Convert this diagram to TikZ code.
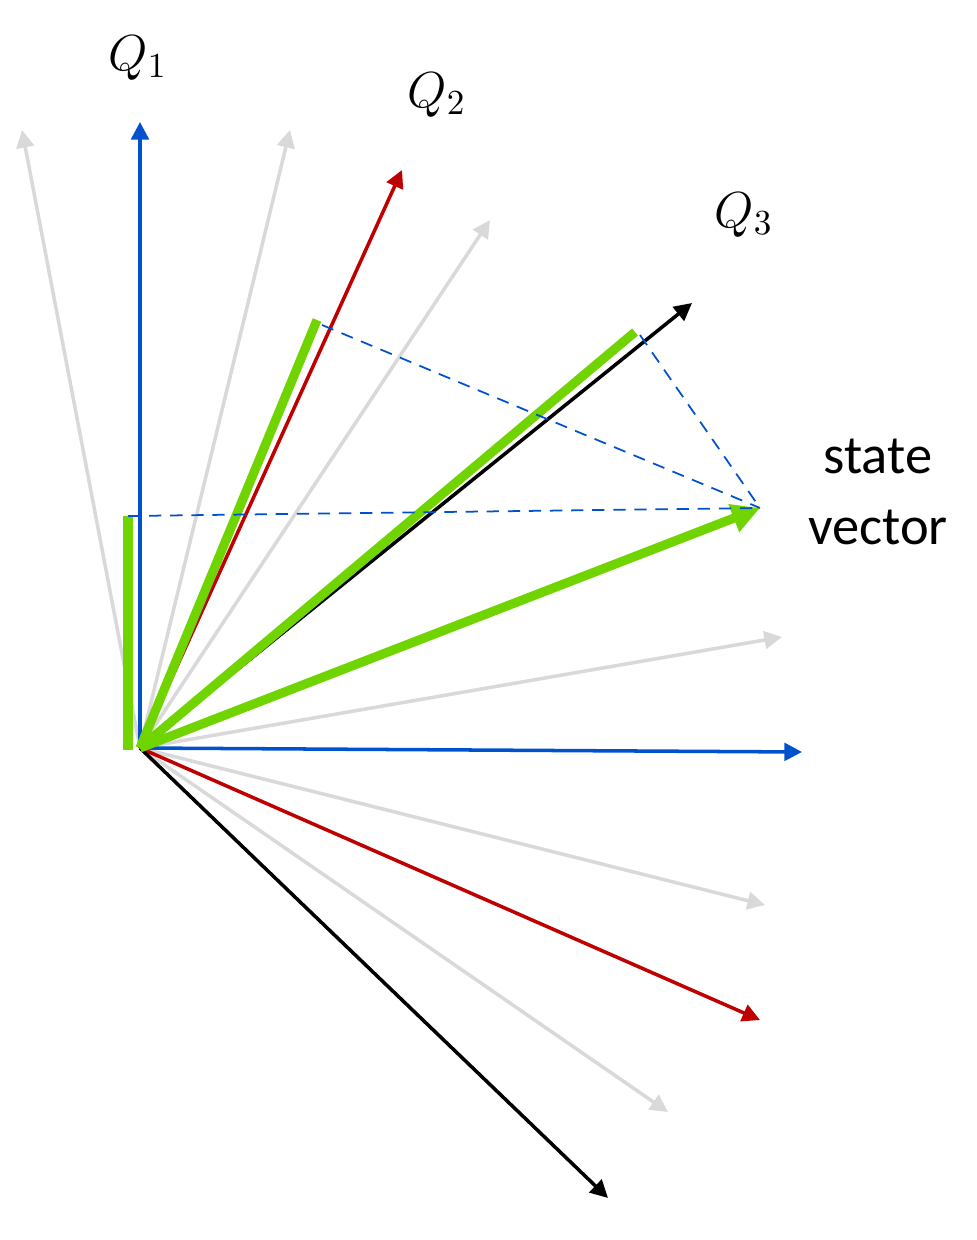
\documentclass[tikz,border=0pt]{standalone}
\usepackage{fontspec}
\setsansfont{Carlito}
\usetikzlibrary{arrows.meta}
\begin{document}
\begin{tikzpicture}[x=0.01cm, y=-0.01cm]
        % ================= styles =================
        \tikzset{
            % faint axes
            faint/.style={line width=1pt, black!15, -{Triangle[length=5pt,width=5pt]}},
            % coloured axes
            axis/.style={line width=1pt, -{Triangle[length=5pt,width=5pt]}},
            % projections
            proj/.style={line width=2.6pt, green!65!black!60!lime!80!yellow},
            % helper lines
            helper/.style={line width=0.5pt, blue!60!cyan!80!black, dash pattern=on 3.5pt off 2.5pt}
        }
        \useasboundingbox (0,0) rectangle (977,1240);

        % ================= 1. points =================
        \coordinate (o) at (140,748);
        \coordinate (g1) at (22,130);
        \coordinate (g2) at (290,130);
        \coordinate (g3) at (490,220);
        \coordinate (g4) at (782,637);
        \coordinate (g5) at (765,905);
        \coordinate (g6) at (668,1112);
        \coordinate (q1) at (140,122);
        \coordinate (q1b) at (802,752);
        \coordinate (q2) at (402,170);
        \coordinate (q2b) at (760,1020);
        \coordinate (q3) at (692,303);
        \coordinate (q3b) at (608,1198);
        \coordinate (p1) at (128,516);
        \coordinate (p2) at (317,320);
        \coordinate (p3) at (635,332);
        \coordinate (sv) at (760,508);

        % ================= 2. axes =================
        \foreach \p in {g1,g2,g3,g4,g5,g6} \draw[faint] (o) -- (\p);
        \draw[axis, blue!60!cyan!80!black] (o) -- (q1);
        \draw[axis, blue!60!cyan!80!black] (o) -- (q1b);
        \draw[axis, red!75!black] (o) -- (q2);
        \draw[axis, red!75!black] (o) -- (q2b);
        \draw[axis, black] (o) -- (q3);
        \draw[axis, black] (o) -- (q3b);

        % ================= 3. projections =================
        \draw[proj] (128,750) -- (p1);
        \draw[proj] (o) -- (p2);
        \draw[proj] (o) -- (p3);
        \draw[proj, -{Triangle[length=8pt,width=8pt]}] (o) -- (sv);
        \draw[helper] (p1) -- (sv);
        \draw[helper] (322,325) -- (sv);
        \draw[helper] (640,335) -- (sv);

        % ================= 4. labels =================
        \node (lq1) at (138,58) {\Large $Q_1$};
        \node (lq2) at (437,95) {\Large $Q_2$};
        \node (lq3) at (744,215) {\Large $Q_3$};
        \node[align=center, font=\sffamily\fontsize{15.5}{20}\selectfont] (lsv) at (878,492) {state\\vector};
\end{tikzpicture}
\end{document}
